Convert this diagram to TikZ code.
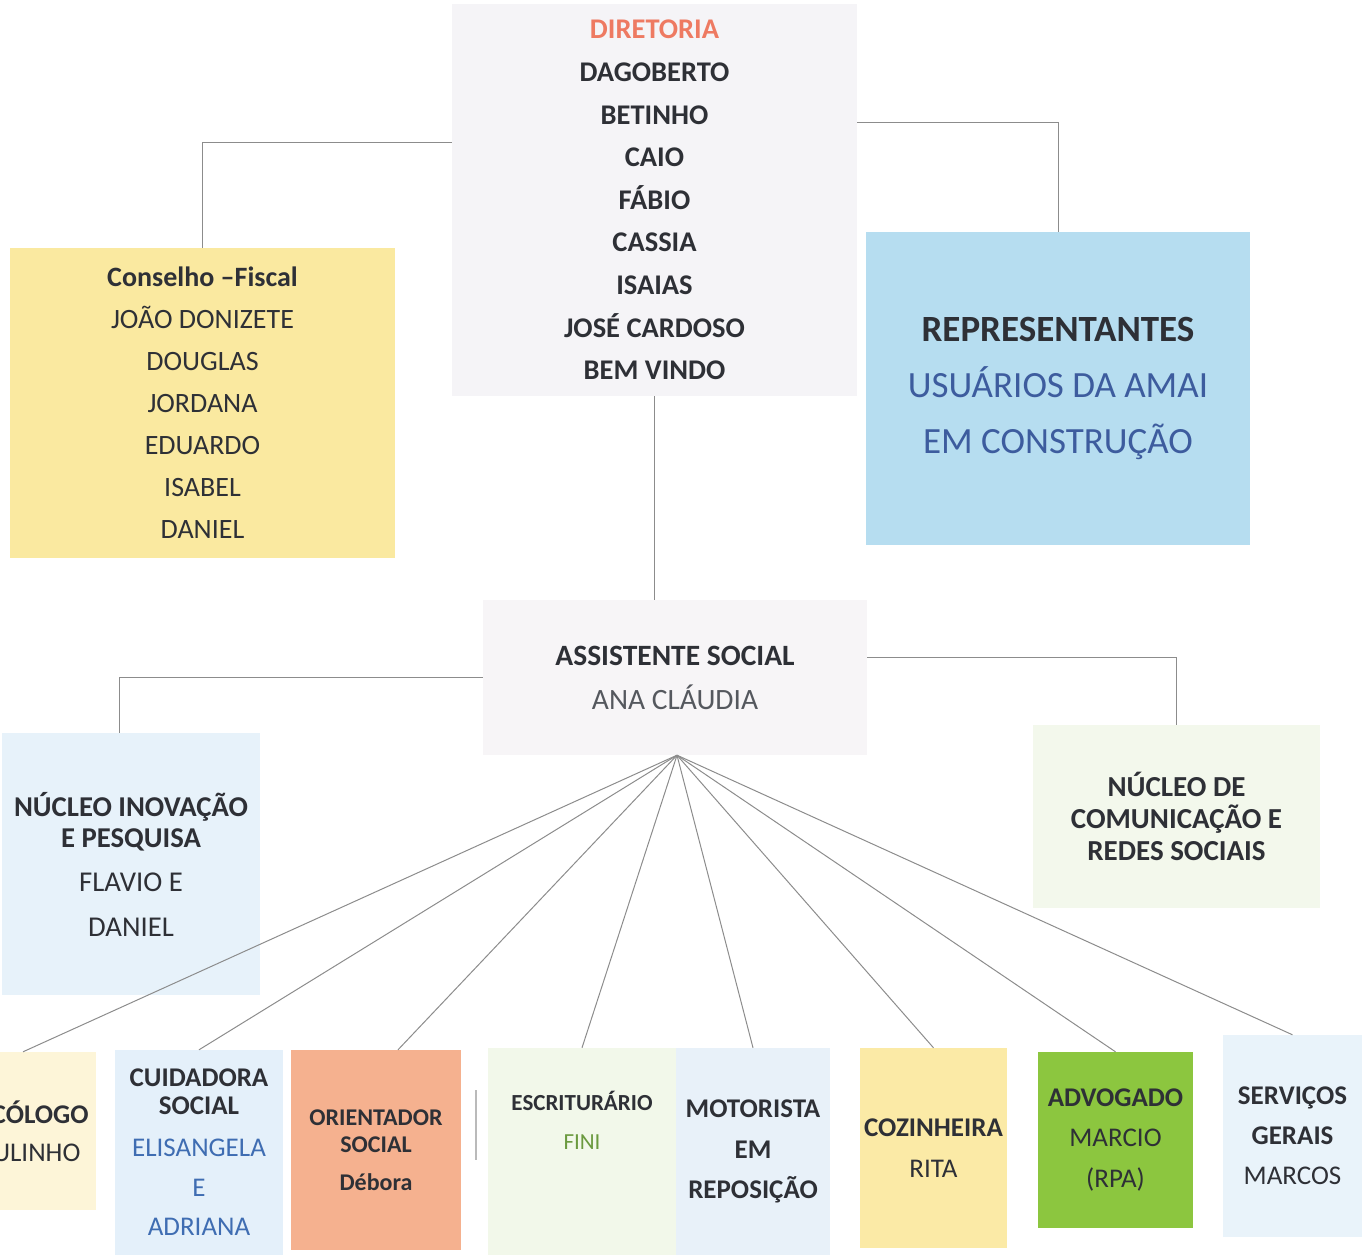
\documentclass[tikz,border=0pt]{standalone}
\usepackage{fontspec}
\setmainfont{Carlito}

\definecolor{ink}{HTML}{2E3036}
\definecolor{softink}{HTML}{55585E}
\definecolor{dirtitle}{HTML}{EE7A62}
\definecolor{dirfill}{HTML}{F5F4F7}
\definecolor{consfill}{HTML}{FAE9A0}
\definecolor{repfill}{HTML}{B6DDF0}
\definecolor{repblue}{HTML}{3D5C9E}
\definecolor{assfill}{HTML}{F7F5F7}
\definecolor{ninfill}{HTML}{E7F2FA}
\definecolor{ncomfill}{HTML}{F3F8EC}
\definecolor{psifill}{HTML}{FDF5D8}
\definecolor{cuidfill}{HTML}{E4F0FA}
\definecolor{cuidblue}{HTML}{3F6DB2}
\definecolor{orifill}{HTML}{F5B18F}
\definecolor{escfill}{HTML}{F2F8EA}
\definecolor{fini}{HTML}{6B9A3F}
\definecolor{motfill}{HTML}{E8F1F9}
\definecolor{cozfill}{HTML}{FBEAA6}
\definecolor{advfill}{HTML}{8CC63F}
\definecolor{servfill}{HTML}{E9F3FA}
\definecolor{linkgray}{HTML}{8C8C8C}

\begin{document}
\begin{tikzpicture}[x=1pt,y=-1pt]
  \tikzset{
    box/.style={rectangle,inner sep=0pt,align=center,text=ink},
    link/.style={draw=linkgray,line width=1pt},
  }
  \useasboundingbox (0,0) rectangle (1370,1255);
  \clip (0,0) rectangle (1370,1255);

  \node[box,fill=dirfill,minimum width=405pt,minimum height=392pt,font=\fontsize{28.5}{42.6}\selectfont\bfseries] (dir) at (654.5,200)
    {\textcolor{dirtitle}{DIRETORIA}\\ DAGOBERTO\\ BETINHO\\ CAIO\\ FÁBIO\\ CASSIA\\ ISAIAS\\ JOSÉ CARDOSO\\ BEM VINDO};
  \node[box,fill=consfill,minimum width=385pt,minimum height=310pt,font=\fontsize{28}{42}\selectfont] (cons) at (202.5,403)
    {\textbf{Conselho –Fiscal}\\ JOÃO DONIZETE\\ DOUGLAS\\ JORDANA\\ EDUARDO\\ ISABEL\\ DANIEL};
  \node[box,fill=repfill,minimum width=384pt,minimum height=313pt,font=\fontsize{37}{56}\selectfont] (rep) at (1058,388.5)
    {\textbf{REPRESENTANTES}\\ \textcolor{repblue}{USUÁRIOS DA AMAI}\\ \textcolor{repblue}{EM CONSTRUÇÃO}};
  \node[box,fill=assfill,minimum width=384pt,minimum height=155pt,font=\fontsize{29.5}{44}\selectfont] (ass) at (675,677.5)
    {\textbf{ASSISTENTE SOCIAL}\\ \textcolor{softink}{ANA CLÁUDIA}};
  \node[box,fill=ninfill,minimum width=258pt,minimum height=262pt,font=\fontsize{28.7}{31}\selectfont] (nin) at (131,864)
    {\textbf{NÚCLEO INOVAÇÃO}\\ \textbf{E PESQUISA}\\[13pt] FLAVIO E\\[14pt] DANIEL};
  \node[box,fill=ncomfill,minimum width=287pt,minimum height=183pt,font=\fontsize{29}{32}\selectfont\bfseries] (ncom) at (1176.5,816.5)
    {NÚCLEO DE\\ COMUNICAÇÃO E\\ REDES SOCIAIS};

  \node[box,fill=psifill,minimum width=146pt,minimum height=158pt,font=\fontsize{27}{38}\selectfont] (psi) at (23,1131)
    {\textbf{PSICÓLOGO}\\ PAULINHO};
  \node[box,fill=cuidfill,minimum width=168pt,minimum height=205pt,font=\fontsize{27}{28}\selectfont] (cuid) at (199,1152.5)
    {\textbf{CUIDADORA}\\ \textbf{SOCIAL}\\[14pt] \textcolor{cuidblue}{ELISANGELA}\\[12pt] \textcolor{cuidblue}{E}\\[11pt] \textcolor{cuidblue}{ADRIANA}};
  \node[box,fill=orifill,minimum width=170pt,minimum height=200pt,font=\fontsize{24}{27}\selectfont\bfseries] (ori) at (376,1150)
    {ORIENTADOR\\ SOCIAL\\[11pt] Débora};
  \node[box,fill=escfill,minimum width=188pt,minimum height=207pt,
    label={[align=center,text=ink,font=\fontsize{23}{39}\selectfont,yshift=31pt]center:{\textbf{ESCRITURÁRIO}\\ \textcolor{fini}{FINI}}}] (esc) at (582,1151.5) {};
  \node[box,fill=motfill,minimum width=154pt,minimum height=207pt,font=\fontsize{27}{40.5}\selectfont\bfseries] (mot) at (753,1151.5)
    {MOTORISTA\\ EM\\ REPOSIÇÃO};
  \node[box,fill=cozfill,minimum width=147pt,minimum height=200pt,font=\fontsize{27}{41}\selectfont] (coz) at (933.5,1148)
    {\textbf{COZINHEIRA}\\ RITA};
  \node[box,fill=advfill,minimum width=155pt,minimum height=176pt,font=\fontsize{27}{40.5}\selectfont] (adv) at (1115.5,1140)
    {\textbf{ADVOGADO}\\ MARCIO\\ (RPA)};
  \node[box,fill=servfill,minimum width=139pt,minimum height=202pt,font=\fontsize{27}{40}\selectfont] (serv) at (1292.5,1136)
    {\textbf{SERVIÇOS}\\ \textbf{GERAIS}\\ MARCOS};

  \draw[link] ([yshift=58pt]dir.west) -| (cons.north);
  \draw[link] ([yshift=78pt]dir.east) -| (rep.north);
  \draw[link] (dir.south) -- (dir.south |- ass.north);
  \draw[link] (ass.west) -| ([xshift=-12pt]nin.north);
  \draw[link] ([yshift=20pt]ass.east) -| (ncom.north);

  \coordinate (hub) at ([xshift=2pt]ass.south);
  \draw[link] (hub) edge (psi.north) edge (cuid.north) edge ([xshift=22pt]ori.north)
    edge (esc.north) edge (mot.north) edge (coz.north) edge (adv.north) edge (serv.north);

  \draw[draw=linkgray!60,line width=1.2pt] (476,1090) -- (476,1160);
\end{tikzpicture}
\end{document}
